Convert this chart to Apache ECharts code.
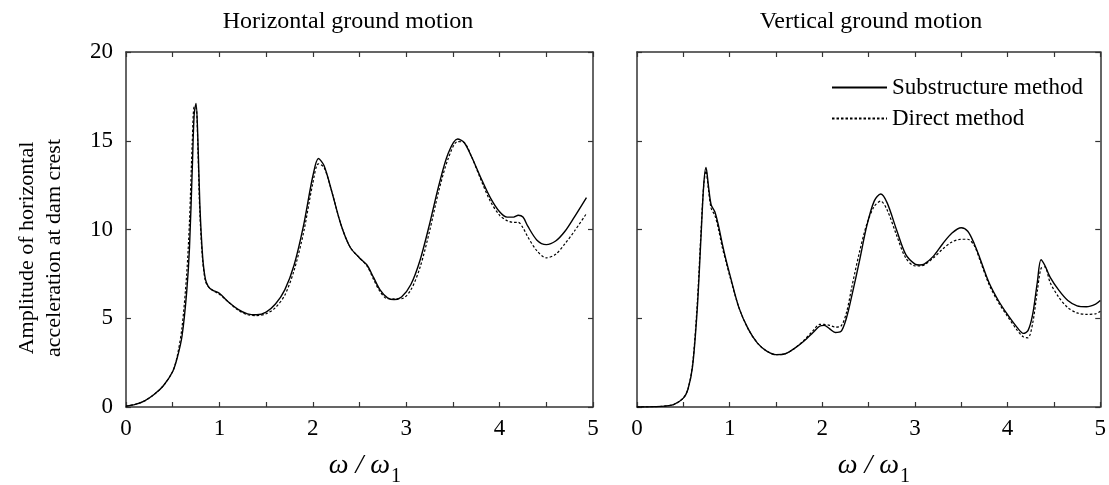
<!DOCTYPE html>
<html><head><meta charset="utf-8">
<script src="https://cdn.jsdelivr.net/npm/echarts@6/dist/echarts.min.js"></script>
<style>html,body{margin:0;padding:0;background:#fff}#c{width:1109px;height:485px}</style>
</head><body><div id="c"></div>
<script>
// Horizontal ground motion (left panel)
const hX   = [0,0.1,0.2,0.3,0.4,0.5,0.55,0.6,0.65,0.68,0.71,0.73,0.75,0.77,0.79,0.82,0.85,0.88,0.92,1.0,1.1,1.2,1.3,1.4,1.5,1.6,1.7,1.8,1.9,2.0,2.06,2.12,2.2,2.3,2.4,2.5,2.58,2.65,2.72,2.8,2.87,2.95,3.05,3.15,3.25,3.35,3.45,3.55,3.62,3.7,3.8,3.9,4.0,4.08,4.15,4.2,4.25,4.3,4.4,4.5,4.6,4.7,4.8,4.93];
const hSub = [0.05,0.15,0.35,0.7,1.2,2.0,2.8,4.0,6.5,9.0,13.5,16.5,17.1,15.0,11.5,8.5,7.2,6.8,6.6,6.4,5.9,5.5,5.25,5.2,5.35,5.8,6.6,8.0,10.2,13.0,14.0,13.6,12.2,10.3,9.0,8.4,8.0,7.3,6.6,6.15,6.05,6.2,6.9,8.3,10.3,12.5,14.3,15.1,14.9,14.1,12.9,11.8,11.0,10.7,10.7,10.8,10.7,10.2,9.4,9.15,9.35,9.9,10.7,11.8];
const hDir = [0.05,0.15,0.35,0.7,1.2,2.0,2.9,4.5,7.5,10.5,15.0,16.9,16.9,14.5,11.0,8.3,7.1,6.8,6.6,6.35,5.9,5.45,5.2,5.15,5.25,5.6,6.3,7.7,9.8,12.6,13.7,13.5,12.2,10.3,9.0,8.4,7.95,7.2,6.5,6.1,6.1,6.1,6.6,7.9,9.9,12.2,14.0,14.95,14.9,14.1,12.8,11.6,10.8,10.5,10.4,10.4,10.1,9.6,8.8,8.4,8.6,9.2,9.9,10.9];
// Vertical ground motion (right panel)
const vX   = [0,0.2,0.3,0.4,0.5,0.55,0.6,0.65,0.69,0.72,0.745,0.77,0.8,0.84,0.88,0.92,0.96,1.0,1.1,1.2,1.3,1.4,1.5,1.6,1.7,1.8,1.9,1.97,2.02,2.08,2.14,2.2,2.26,2.32,2.4,2.48,2.56,2.63,2.7,2.8,2.9,3.0,3.05,3.1,3.2,3.3,3.4,3.5,3.57,3.64,3.7,3.8,3.9,4.0,4.1,4.17,4.22,4.27,4.32,4.36,4.4,4.46,4.55,4.65,4.75,4.85,4.95,5.0];
const vSub = [0,0.02,0.05,0.15,0.5,1.0,2.3,5.5,9.5,12.5,13.5,12.5,11.4,11.0,10.2,9.2,8.3,7.5,5.6,4.4,3.6,3.15,2.95,3.0,3.3,3.7,4.2,4.55,4.6,4.4,4.2,4.25,5.0,6.3,8.2,10.2,11.6,12.0,11.5,10.0,8.6,8.05,8.0,8.05,8.5,9.2,9.8,10.1,9.9,9.2,8.4,7.0,6.0,5.2,4.5,4.15,4.3,5.2,7.0,8.3,8.0,7.3,6.6,6.0,5.7,5.65,5.8,6.0];
const vDir = [0,0.02,0.05,0.15,0.5,1.0,2.4,5.8,9.8,12.5,13.3,12.3,11.2,10.8,10.0,9.0,8.2,7.4,5.6,4.4,3.6,3.15,2.95,3.0,3.3,3.75,4.3,4.65,4.65,4.6,4.5,4.55,5.3,6.8,8.7,10.3,11.3,11.6,11.1,9.7,8.4,7.95,7.95,8.0,8.4,8.9,9.3,9.45,9.45,9.1,8.3,6.9,5.9,5.1,4.35,3.95,3.9,4.7,6.5,7.8,7.9,7.0,6.2,5.6,5.3,5.22,5.25,5.4];

const panelTitles = ['Horizontal ground motion', 'Vertical ground motion'];
const seriesNames = ['Substructure method', 'Direct method'];
const yNameLines = ['Amplitude of horizontal', 'acceleration at dam crest'];
const xMin = 0, xMax = 5, xStep = 0.5;
const yMin = 0, yMax = 20, yStep = 5;

const FONT = 'Liberation Serif';
const AX = '#333';
const pairs = (xs, ys) => xs.map((x, i) => [x, ys[i]]);

function xAx(grid, pos, labels) {
  return {
    gridIndex: grid, type: 'value', position: pos, min: xMin, max: xMax, interval: xStep,
    axisLine: { show: true, onZero: false, lineStyle: { color: AX, width: 1.5 } },
    axisTick: { show: true, inside: true, length: 5, lineStyle: { color: AX, width: 1.2 } },
    axisLabel: { show: labels, margin: 10, color: '#000', fontFamily: FONT, fontSize: 23,
      formatter: v => (Number.isInteger(v) ? String(v) : '') },
    splitLine: { show: false }
  };
}
function yAx(grid, pos, labels) {
  return {
    gridIndex: grid, type: 'value', position: pos, min: yMin, max: yMax, interval: yStep,
    axisLine: { show: true, onZero: false, lineStyle: { color: AX, width: 1.5 } },
    axisTick: { show: true, inside: true, length: 5, lineStyle: { color: AX, width: 1.2 } },
    axisLabel: { show: labels, margin: 13, color: '#000', fontFamily: FONT, fontSize: 23 },
    splitLine: { show: false }
  };
}
function line(name, data, xi, yi, dashed) {
  return {
    name, type: 'line', data, xAxisIndex: xi, yAxisIndex: yi,
    symbol: 'none', showSymbol: false, smooth: 0.3, animation: false,
    lineStyle: { color: '#000', width: dashed ? 1.2 : 1.4, type: dashed ? [2.5, 2] : 'solid' },
    itemStyle: { color: '#000' }
  };
}

const chart = echarts.init(document.getElementById('c'));
chart.setOption({
  backgroundColor: '#fff',
  animation: false,
  grid: [
    { left: 126, right: 516, top: 52, bottom: 78 },
    { left: 637, right: 7, top: 52, bottom: 78 }
  ],
  xAxis: [xAx(0, 'bottom', true), xAx(0, 'top', false), xAx(1, 'bottom', true), xAx(1, 'top', false)],
  yAxis: [yAx(0, 'left', true), yAx(0, 'right', false), yAx(1, 'left', false), yAx(1, 'right', false)],
  legend: {
    data: seriesNames, orient: 'vertical', left: 826, top: 71,
    itemWidth: 55, itemHeight: 12, itemGap: 8,
    itemStyle: { opacity: 0 },
    textStyle: { fontFamily: FONT, fontSize: 23, color: '#000' }
  },
  series: [
    line(seriesNames[0], pairs(hX, hSub), 0, 0, false),
    line(seriesNames[1], pairs(hX, hDir), 0, 0, true),
    line(seriesNames[0], pairs(vX, vSub), 2, 2, false),
    line(seriesNames[1], pairs(vX, vDir), 2, 2, true)
  ],
  graphic: [
    { type: 'text', x: 348, y: 22, style: { text: panelTitles[0], fontFamily: FONT, fontSize: 24, fill: '#000', align: 'center', verticalAlign: 'middle' } },
    { type: 'text', x: 871, y: 22, style: { text: panelTitles[1], fontFamily: FONT, fontSize: 24, fill: '#000', align: 'center', verticalAlign: 'middle' } },
    { type: 'text', x: 27, y: 248, rotation: Math.PI / 2, style: { text: yNameLines[0], fontFamily: FONT, fontSize: 22, fill: '#000', align: 'center', verticalAlign: 'middle' } },
    { type: 'text', x: 54, y: 248, rotation: Math.PI / 2, style: { text: yNameLines[1], fontFamily: FONT, fontSize: 22, fill: '#000', align: 'center', verticalAlign: 'middle' } },
    { type: 'text', x: 390, y: 466, style: { text: 'ω / ω', fontFamily: FONT, fontStyle: 'italic', fontSize: 28, fill: '#000', align: 'right', verticalAlign: 'middle' } },
    { type: 'text', x: 391, y: 477, style: { text: '1', fontFamily: FONT, fontSize: 20, fill: '#000', align: 'left', verticalAlign: 'middle' } },
    { type: 'text', x: 899, y: 466, style: { text: 'ω / ω', fontFamily: FONT, fontStyle: 'italic', fontSize: 28, fill: '#000', align: 'right', verticalAlign: 'middle' } },
    { type: 'text', x: 900, y: 477, style: { text: '1', fontFamily: FONT, fontSize: 20, fill: '#000', align: 'left', verticalAlign: 'middle' } }
  ]
});
</script>
</body></html>
